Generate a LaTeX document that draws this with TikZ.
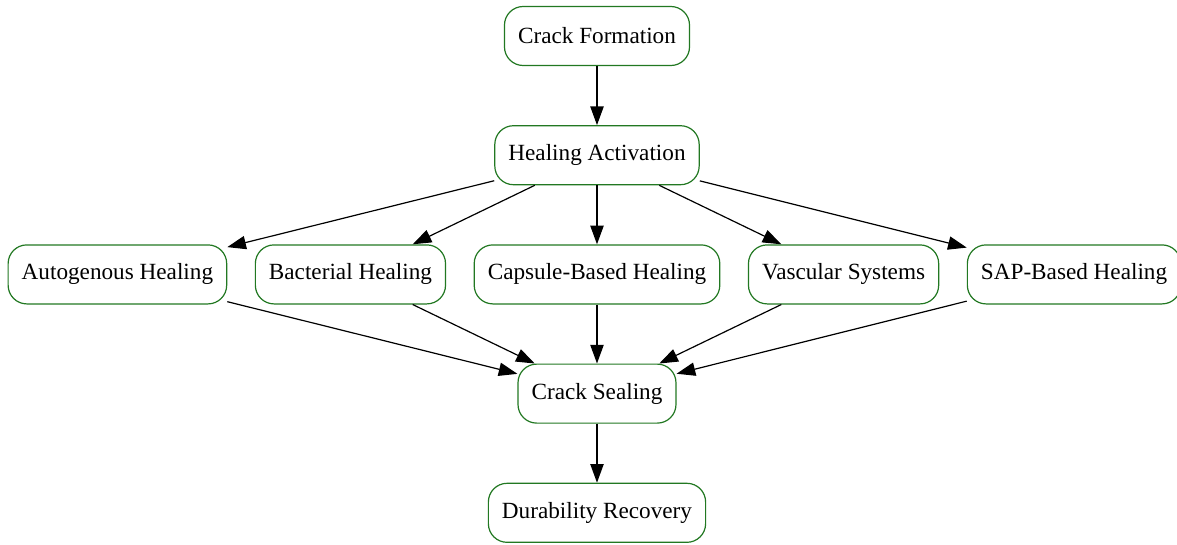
\documentclass[tikz,border=0pt]{standalone}
\usepackage{fontspec}
\setmainfont{Liberation Serif}
\usepackage{tikz}
\usetikzlibrary{positioning,arrows.meta}
\definecolor{stagegreen}{RGB}{34,120,34}

\begin{document}
\begin{tikzpicture}[
    stagenode/.style={rectangle, rounded corners=14pt, draw=stagegreen, fill=white, line width=0.9pt,
        minimum height=44.25pt, inner xsep=10.2pt, font=\fontsize{17.4}{20}\selectfont},
    flowline/.style={-{Triangle[length=14pt,width=10pt]}, draw=black, line width=0.9pt},
    node distance=44.25pt and 20.6pt
    ]
        %Frame
        \useasboundingbox (-447.75pt,27pt) rectangle (435pt,-381pt);

        %Nodes
        \node[stagenode]
            (mForm)   at (0,0)           {Crack Formation};
        \node[stagenode]
            (mAct)    [below=of mForm]   {Healing Activation};
        \node[stagenode]
            (mCaps)   [below=of mAct]    {Capsule-Based Healing};
        \node[stagenode]
            (mBact)   [left=of mCaps]    {Bacterial Healing};
        \node[stagenode]
            (mAuto)   [left=of mBact]    {Autogenous Healing};
        \node[stagenode]
            (mVasc)   [right=of mCaps]   {Vascular Systems};
        \node[stagenode]
            (mSap)    [right=of mVasc]   {SAP-Based Healing};
        \node[stagenode]
            (mSeal)   [below=of mCaps]   {Crack Sealing};
        \node[stagenode]
            (mDur)    [below=of mSeal]   {Durability Recovery};

        %Lines
        \draw[flowline] (mForm) -- (mAct);
        \foreach \m in {mAuto,mBact,mCaps,mVasc,mSap}{
            \draw[flowline] (mAct) -- (\m);
            \draw[flowline] (\m) -- (mSeal);
        }
        \draw[flowline] (mSeal) -- (mDur);
    \end{tikzpicture}
\end{document}
